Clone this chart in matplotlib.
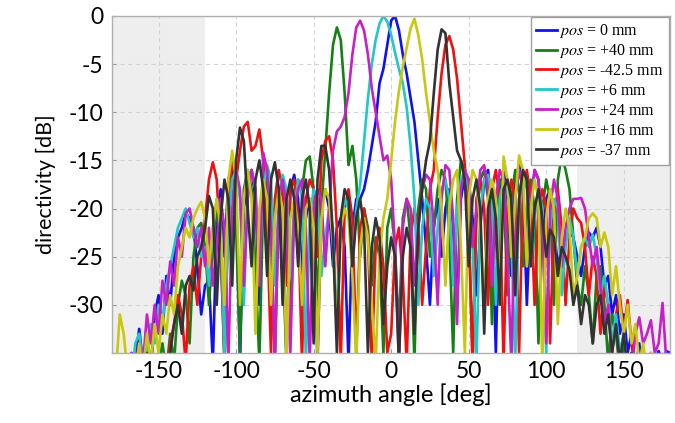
import numpy as np
import matplotlib
matplotlib.use("Agg")
import matplotlib.pyplot as plt

plt.rcParams['font.family'] = ['Lato', 'DejaVu Sans']
plt.rcParams['axes.unicode_minus'] = False
plt.rcParams['mathtext.fontset'] = 'stix'

# azimuth grid, 2.5 deg steps
angles = np.arange(-180, 182.5, 2.5)

# directivity [dB], one list per array position
d_0mm = [
    -38, -37, -36, -38, -37, -35, -36, -32.5, -36, -34, -37, -31,
    -29, -33, -27, -30, -25, -23, -22, -20.5, -21, -22, -26, -31,
    -28, -27.5, -36, -22, -18, -25, -17, -15.5, -19, -36, -20, -17,
    -16, -19, -30, -16, -17, -28, -20, -18, -24, -36, -18, -16.5,
    -19, -27, -21, -19, -22, -36, -20, -18, -20, -26, -22, -21,
    -24, -36, -22, -19, -19, -18, -16, -13.5, -11, -7, -5.5, -3,
    -0.5, 0, -1.5, -4, -6, -8.5, -11, -15, -19, -24, -30, -22,
    -19, -25, -20, -18, -22, -30, -19, -16.5, -17, -21, -29, -22,
    -17, -16, -20, -35, -18, -16, -19, -27, -17, -15.5, -18, -30,
    -20, -16, -17, -24, -19, -18, -22, -26, -24, -23, -22.5, -23,
    -25, -27, -24, -22.5, -23, -22, -24, -28, -27, -31, -29, -33,
    -31, -35, -33, -37, -34, -38, -36, -35, -36, -34.8, -36, -34.8,
    -35]
d_p40mm = [
    -37, -36, -38, -37, -36, -37, -38, -36, -37, -36, -38, -37,
    -36, -34, -37, -33, -36, -30, -27.5, -29, -34, -25, -22, -21.5,
    -24, -30, -24, -20, -23, -36, -19, -17, -22, -35, -18, -16,
    -18, -26, -36, -19, -17, -22, -36, -20, -17, -19, -32, -20,
    -17, -18, -15, -14.6, -18, -30, -20, -14, -8, -3, -1.2, -2.5,
    -8, -15.5, -13.5, -17, -25, -20, -22, -28, -23, -25, -35, -22,
    -20, -24, -33, -21, -19, -23, -36, -20, -17, -18, -25, -22,
    -18, -16, -17, -23, -35, -19, -15, -16, -22, -36, -21, -17,
    -16, -19, -32, -20, -17, -18, -29, -19, -16, -18, -26, -20,
    -17, -20, -34, -20, -17, -19, -30, -17, -14.5, -16, -18, -23,
    -28, -30, -26, -29, -34, -27, -26, -30, -36, -31, -33, -37,
    -34, -37, -35, -38, -37, -38, -37, -38, -37, -38, -37, -38,
    -38]
d_m42mm = [
    -38, -37, -38, -37, -38, -36, -37, -38, -37, -36, -38, -37,
    -38, -36, -37, -34, -32, -29, -31, -36, -28, -26, -30, -25,
    -21, -17, -15.2, -17, -24, -36, -20, -15, -17, -14, -11.5, -11,
    -14, -13.5, -11.8, -15, -22, -35, -19, -16, -18, -28, -18, -17,
    -21, -36, -19, -17, -18, -25, -15, -13, -12.5, -15, -22, -36,
    -20, -18, -21, -35, -22, -20, -23, -36, -24, -22, -26, -35,
    -33, -24, -22, -27, -36, -23, -20, -22, -30, -24, -18, -16,
    -10.5, -6, -3, -2.1, -3.5, -6.5, -11, -15.5, -21, -36, -19, -17,
    -20, -30, -18, -16, -19, -36, -20, -17, -19, -35, -18, -16,
    -19, -30, -20, -18, -20, -34, -21, -18, -22, -30, -23, -20,
    -21, -21.5, -24, -29, -25, -27, -33, -28, -30, -35, -31, -29,
    -33, -29.5, -34, -37, -36, -38, -37, -38, -37, -38, -37, -38,
    -38]
d_p6mm = [
    -38, -37, -38, -36, -37, -38, -34, -33, -36, -35, -32, -34,
    -30, -32, -28, -26, -24, -22, -21, -20, -21.5, -23, -22, -25,
    -24, -28, -22, -19, -21, -35, -22, -17, -16, -19, -30, -18,
    -16, -18, -26, -18, -15.5, -17, -28, -19, -16.5, -18, -27, -20,
    -17, -19, -36, -21, -18, -19, -27, -23, -20, -22, -32, -22,
    -19, -20, -26, -20, -17.5, -13, -8.6, -5, -2.5, -0.8, 0, -0.6,
    -2, -3.8, -5.5, -7, -9.5, -13.5, -19, -30, -22, -19, -20, -27,
    -22, -18, -17, -19, -28, -20, -17, -16, -18, -24, -36, -20,
    -17, -16.5, -19, -30, -19, -17, -18, -23, -36, -19, -16.5, -18,
    -26, -21, -18, -20, -35, -22, -19, -20, -29, -24, -21, -23,
    -27, -24, -23, -24, -22.7, -25, -29, -27, -30, -34, -31, -35,
    -33, -37, -36, -38, -37, -38, -36, -38, -37, -35.5, -37, -35.5,
    -36]
d_p24mm = [
    -38, -37, -38, -36, -37, -35, -36, -34, -36, -31, -34, -30,
    -33, -27.5, -30, -25.5, -28, -23, -25, -20.5, -20, -22, -24, -22,
    -26, -22, -28, -24, -19, -22, -36, -20, -16, -18, -28, -19,
    -16, -18, -28, -14.2, -16, -22, -36, -19, -17, -20, -35, -20,
    -18, -17, -22, -36, -20, -18, -19, -26, -20, -14, -12, -11.5,
    -10.5, -8, -4, -1.2, -0.5, -1.5, -4, -7.5, -10, -12.5, -15, -14.5,
    -17, -24, -36, -22, -19, -20, -28, -22, -18, -16.5, -17, -22,
    -30, -19, -15.5, -16, -21, -32, -18, -16, -17, -24, -20, -16,
    -15.5, -18, -28, -19, -16, -17, -25, -36, -19, -16, -18, -26,
    -19, -16, -17, -22, -34, -20, -17, -19, -26, -22, -20, -19,
    -19, -18.9, -20, -23, -26, -24, -28, -32, -30, -36, -38, -37,
    -38, -36, -37, -33, -31.3, -34, -33, -31.6, -35, -34, -29.8, -36,
    -38]
d_p16mm = [
    -35, -37, -31, -33, -37, -36, -38, -34, -37, -33, -36, -32,
    -35, -31, -33, -29, -31, -26, -24, -22, -23, -21, -20, -19.3,
    -21, -26, -22, -19, -22, -30, -17, -14, -17, -30, -19, -16,
    -19, -33, -20, -17, -19, -30, -21, -18, -20, -36, -21, -19,
    -22, -30, -20, -19, -22, -35, -21, -18, -19, -24, -33, -22,
    -20, -21, -27, -36, -24, -21, -23, -30, -36, -25, -21, -19,
    -15, -11, -7.8, -5.3, -3.3, -1.3, -0.3, -2, -4.5, -8, -11, -14,
    -16, -20, -28, -20, -17, -16, -24, -35, -19, -16, -17, -22,
    -30, -19, -17, -19, -30, -14.6, -17, -25, -19, -14.5, -16, -26,
    -20, -17, -19, -36, -21, -18, -20, -32, -23, -20, -22, -29,
    -27, -24, -23, -21, -20.5, -21, -24, -22.5, -24, -29, -26, -30,
    -33, -30, -34, -32, -36, -34, -37, -35, -38, -37, -38, -37,
    -38]
d_m37mm = [
    -38, -37, -38, -37, -38, -37, -36, -38, -37, -35, -38, -36,
    -38, -36, -37, -35, -32, -30, -33, -28, -27, -28.5, -25, -24,
    -22, -18.7, -20, -30, -21, -17, -19, -28, -15, -11.6, -13, -20,
    -26, -17, -15, -18, -27, -17, -15.2, -18, -30, -19, -17, -19,
    -26, -19, -17, -20, -34, -17, -13.5, -13.5, -16, -23, -35, -21,
    -18, -19, -26, -21, -19, -22, -35, -24, -21, -23, -32, -26,
    -23, -25, -36, -25, -22, -24, -33, -22, -18, -15, -13, -8,
    -3.5, -1.4, -1.8, -7, -10.5, -14, -15, -17, -26, -19, -17, -20,
    -33, -20, -18, -21, -30, -18, -17, -19, -29, -19, -16, -17,
    -26, -20, -18, -21, -25, -22.2, -23, -27, -24, -25, -26.4, -30,
    -28, -32, -29, -30, -34, -30, -29, -33, -31, -35, -32, -36,
    -33, -37, -35, -38, -36, -38, -37, -38, -37, -38, -37, -38,
    -38]

series = [d_0mm, d_p40mm, d_m42mm, d_p6mm, d_p24mm, d_p16mm, d_m37mm]
labels = ['0 mm', '+40 mm', '-42.5 mm', '+6 mm', '+24 mm', '+16 mm', '-37 mm']
colors = ['#1010f0', '#168016', '#f01010', '#20c8c8', '#c820c8', '#c8c810', '#333333']

fig = plt.figure(figsize=(6.75, 4.23), dpi=100)
ax = fig.add_axes([0.166, 0.1655, 0.827, 0.797])

ax.axvspan(-180, -120, color='#eeeeee', zorder=0, lw=0)
ax.axvspan(120, 180, color='#eeeeee', zorder=0, lw=0)

for vals, lab, c in zip(series, labels, colors):
    ax.plot(angles, vals, color=c, lw=1.9, label='$pos$ = ' + lab)

ax.set_xlim(-180, 180)
ax.set_ylim(-35, 0)
ax.set_xticks([-150, -100, -50, 0, 50, 100, 150])
ax.set_yticks([0, -5, -10, -15, -20, -25, -30])
ax.grid(True, color='#d4d4d4', ls=(0, (4, 3)), lw=0.8)
ax.set_axisbelow(True)
ax.tick_params(direction='in', length=3, color='#999999', labelsize=16.5, pad=6)
for sp in ax.spines.values():
    sp.set_color('#b0b0b0')
    sp.set_linewidth(1.0)

ax.set_xlabel('azimuth angle [deg]', fontsize=17, labelpad=1)
ax.set_ylabel('directivity [dB]', fontsize=15.5, labelpad=9)

leg = ax.legend(loc='upper right', prop={'family': 'Liberation Serif', 'size': 11.5},
                handlelength=1.3, handletextpad=0.15, labelspacing=0.12,
                borderpad=0.3, borderaxespad=0.1, fancybox=False, framealpha=1)
leg.get_frame().set_edgecolor('#a0a0a0')
leg.get_frame().set_linewidth(1.0)
for line in leg.get_lines():
    line.set_linewidth(2)

fig.savefig('out.png', dpi=100)
